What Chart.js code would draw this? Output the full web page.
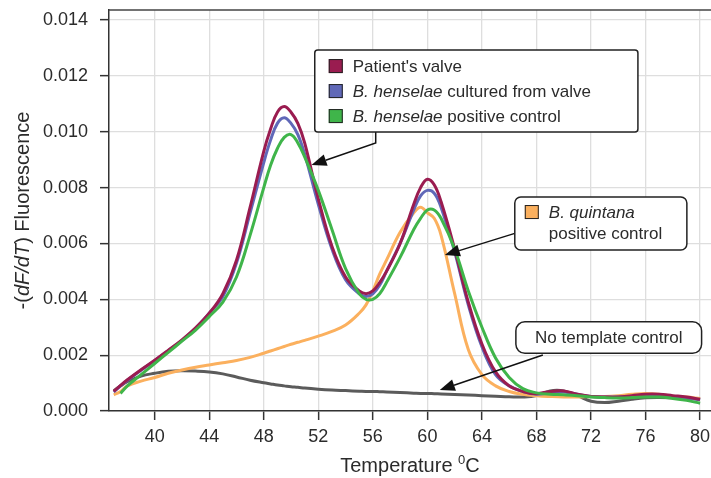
<!DOCTYPE html>
<html>
<head>
<meta charset="utf-8">
<script src="https://cdn.jsdelivr.net/npm/chart.js@4.4.1/dist/chart.umd.min.js"></script>
<style>
  html, body { margin: 0; padding: 0; background: #fff; }
  #wrap { width: 711px; height: 478px; }
</style>
</head>
<body>
<div id="wrap"><canvas id="meltChart" width="711" height="478"></canvas></div>
<script>
// Melt curve data (temperature in degrees C, -dF/dT)
const temps = [37, 37.5, 38, 39, 40, 41, 42, 43, 44, 45, 46, 47, 48, 48.5, 49, 49.5, 50, 50.5, 51,
  52, 53, 54, 55, 55.5, 56, 56.5, 57, 58, 59, 59.5, 60, 60.5, 61,
  62, 63, 64, 65, 66, 67, 68, 69, 70, 71, 72, 73, 74, 75, 76, 77, 78, 79, 80];

const patientValve = [0.00070, 0.00092, 0.00112, 0.00148, 0.00182, 0.00218, 0.00255, 0.00298, 0.0035, 0.0042, 0.0054, 0.0073, 0.0093, 0.0101, 0.0107, 0.0109, 0.0107, 0.0103, 0.0096,
  0.0076, 0.0059, 0.0048, 0.0043, 0.0042, 0.0043, 0.0046, 0.0050, 0.0060, 0.0074, 0.0080, 0.0083, 0.0081, 0.0075,
  0.0058, 0.0039, 0.0024, 0.0014, 0.0009, 0.0007, 0.00062, 0.0007, 0.00072, 0.0006, 0.00052, 0.0005, 0.0005, 0.00055, 0.0006, 0.0006, 0.00055, 0.0005, 0.00042];

const culturedValve = [0.00068, 0.0009, 0.0011, 0.00146, 0.0018, 0.00216, 0.00253, 0.00296, 0.0035, 0.0041, 0.0053, 0.0071, 0.0089, 0.0097, 0.0103, 0.0105, 0.0103, 0.0099, 0.0092,
  0.0074, 0.0058, 0.0047, 0.0042, 0.0041, 0.0042, 0.0045, 0.0050, 0.0060, 0.0072, 0.0077, 0.0079, 0.0078, 0.0073,
  0.0057, 0.0038, 0.0023, 0.0013, 0.0009, 0.0007, 0.0006, 0.00065, 0.00068, 0.0006, 0.00052, 0.0005, 0.0005, 0.00053, 0.00056, 0.00056, 0.00052, 0.00047, 0.0004];

const henselaeControl = [null, 0.00063, 0.0009, 0.0013, 0.0017, 0.0021, 0.0025, 0.0029, 0.00338, 0.0039, 0.0048, 0.0063, 0.0080, 0.0088, 0.0094, 0.0098, 0.0099, 0.0096, 0.0091,
  0.0079, 0.0065, 0.0051, 0.0042, 0.0040, 0.0040, 0.0042, 0.0046, 0.0055, 0.0065, 0.0069, 0.0072, 0.0072, 0.0069,
  0.0058, 0.0043, 0.0030, 0.0019, 0.0012, 0.0008, 0.00065, 0.0006, 0.00058, 0.00055, 0.0005, 0.00048, 0.00047, 0.00048, 0.0005, 0.0005, 0.00045, 0.00038, 0.00028];

const quintanaControl = [0.00058, 0.0007, 0.0009, 0.00107, 0.0012, 0.00135, 0.00147, 0.00157, 0.00165, 0.00173, 0.00181, 0.00192, 0.00207, 0.00215, 0.00223, 0.00231, 0.00239, 0.00246, 0.00253,
  0.00268, 0.00285, 0.00308, 0.0035, 0.0038, 0.0043, 0.0049, 0.0054, 0.0064, 0.0071, 0.0073, 0.0071, 0.0069, 0.0063,
  0.0042, 0.0022, 0.0013, 0.0009, 0.0007, 0.0006, 0.00055, 0.00052, 0.0005, 0.0005, 0.00052, 0.00052, 0.00055, 0.0006, 0.00063, 0.0006, 0.00053, 0.0005, 0.00045];

const noTemplate = [0.00072, 0.0009, 0.00105, 0.00125, 0.00135, 0.00142, 0.00144, 0.00143, 0.0014, 0.00133, 0.00122, 0.0011, 0.00101, 0.00097, 0.00093, 0.0009, 0.00087, 0.00085, 0.00082,
  0.00078, 0.00075, 0.00073, 0.00071, 0.0007, 0.0007, 0.00069, 0.00068, 0.00066, 0.00064, 0.00063, 0.00063, 0.00062, 0.00061,
  0.00059, 0.00057, 0.00055, 0.00053, 0.00051, 0.0005, 0.00055, 0.00072, 0.00072, 0.00055, 0.00035, 0.0003, 0.00035, 0.00042, 0.00047, 0.00048, 0.00047, 0.00045, 0.00043];

const xTicks = [40, 44, 48, 52, 56, 60, 64, 68, 72, 76, 80];
const yTicks = [0, 0.002, 0.004, 0.006, 0.008, 0.010, 0.012, 0.014];

const FONT = '"Liberation Sans", Arial, sans-serif';
const INK = '#2b2b2b';

const seriesColors = {
  patient: '#9a1c50',
  cultured: '#6068b8',
  henselae: '#3fb54a',
  quintana: '#fbb05e',
  ntc: '#5b5b5b'
};

function makeSeries(values, color, order) {
  return {
    data: temps.map((t, i) => ({ x: t, y: values[i] })),
    borderColor: color,
    borderWidth: 3,
    pointRadius: 0,
    fill: false,
    tension: 0.4,
    spanGaps: false,
    order: order
  };
}

// Rounded box helper
function roundBox(ctx, x, y, w, h, r) {
  ctx.beginPath();
  ctx.moveTo(x + r, y);
  ctx.lineTo(x + w - r, y);
  ctx.arcTo(x + w, y, x + w, y + r, r);
  ctx.lineTo(x + w, y + h - r);
  ctx.arcTo(x + w, y + h, x + w - r, y + h, r);
  ctx.lineTo(x + r, y + h);
  ctx.arcTo(x, y + h, x, y + h - r, r);
  ctx.lineTo(x, y + r);
  ctx.arcTo(x, y, x + r, y, r);
  ctx.closePath();
}

// Draw text made of normal / italic pieces
function drawRuns(ctx, runs, x, y, size) {
  let cx = x;
  runs.forEach(r => {
    ctx.font = (r.italic ? 'italic ' : '') + size + 'px ' + FONT;
    ctx.fillText(r.text, cx, y);
    cx += ctx.measureText(r.text).width;
  });
  return cx;
}

function runsWidth(ctx, runs, size) {
  let w = 0;
  runs.forEach(r => {
    ctx.font = (r.italic ? 'italic ' : '') + size + 'px ' + FONT;
    w += ctx.measureText(r.text).width;
  });
  return w;
}

function arrow(ctx, pts) {
  ctx.save();
  ctx.strokeStyle = '#111';
  ctx.fillStyle = '#111';
  ctx.lineWidth = 1.5;
  const tip = pts[pts.length - 1];
  const prev = pts[pts.length - 2];
  const ang = Math.atan2(tip[1] - prev[1], tip[0] - prev[0]);
  const len = 15, half = 6;
  const bx = tip[0] - len * Math.cos(ang), by = tip[1] - len * Math.sin(ang);
  ctx.beginPath();
  ctx.moveTo(pts[0][0], pts[0][1]);
  for (let i = 1; i < pts.length - 1; i++) ctx.lineTo(pts[i][0], pts[i][1]);
  ctx.lineTo(bx, by);
  ctx.stroke();
  ctx.beginPath();
  ctx.moveTo(tip[0], tip[1]);
  ctx.lineTo(bx + half * Math.sin(ang), by - half * Math.cos(ang));
  ctx.lineTo(bx - half * Math.sin(ang), by + half * Math.cos(ang));
  ctx.closePath();
  ctx.fill();
  ctx.restore();
}

// Callout boxes, placed in data units (temperature, fluorescence)
const henselaeCallout = {
  box: { x0: 51.74, x1: 75.44, y0: 0.012925, y1: 0.00999, r: 3 },
  arrow: [[56.21, 0.00999], [56.21, 0.009596], [51.5, 0.008808]],
  rows: [
    { color: seriesColors.patient, runs: [{ text: "Patient's valve" }] },
    { color: seriesColors.cultured, runs: [{ text: 'B. henselae', italic: true }, { text: ' cultured from valve' }] },
    { color: seriesColors.henselae, runs: [{ text: 'B. henselae', italic: true }, { text: ' positive control' }] }
  ]
};
const quintanaCallout = {
  box: { x0: 66.41, x1: 79.03, y0: 0.007662, y1: 0.005765, r: 6 },
  arrow: [[66.41, 0.006362], [61.28, 0.005585]]
};
const ntcCallout = {
  box: { x0: 66.49, x1: 80.11, y0: 0.003197, y1: 0.002066, r: 9 },
  arrow: [[68.47, 0.002005], [60.91, 0.000752]]
};

const calloutPlugin = {
  id: 'callouts',
  afterDraw(chart) {
    const { ctx, chartArea, scales: { x, y } } = chart;
    const px = v => x.getPixelForValue(v);
    const py = v => y.getPixelForValue(v);

    // top frame line
    ctx.save();
    ctx.strokeStyle = '#444';
    ctx.lineWidth = 1.5;
    ctx.beginPath();
    ctx.moveTo(chartArea.left, chartArea.top);
    ctx.lineTo(chartArea.right, chartArea.top);
    ctx.stroke();
    ctx.restore();

    const drawBox = b => {
      const bx = px(b.x0), by = py(b.y0);
      const bw = px(b.x1) - bx, bh = py(b.y1) - by;
      ctx.save();
      roundBox(ctx, bx, by, bw, bh, b.r);
      ctx.fillStyle = '#fff';
      ctx.fill();
      ctx.strokeStyle = '#222';
      ctx.lineWidth = 1.5;
      ctx.stroke();
      ctx.restore();
      return { bx, by, bw, bh };
    };
    const drawSwatch = (sx, cy, color) => {
      ctx.save();
      ctx.fillStyle = color;
      ctx.strokeStyle = '#222';
      ctx.lineWidth = 1;
      ctx.fillRect(sx, cy - 7, 14, 14);
      ctx.strokeRect(sx + 0.5, cy - 6.5, 13, 13);
      ctx.restore();
    };

    ctx.save();
    ctx.textBaseline = 'middle';
    ctx.textAlign = 'left';
    ctx.fillStyle = INK;

    // B. henselae legend
    arrow(ctx, henselaeCallout.arrow.map(p => [px(p[0]), py(p[1])]));
    const hb = drawBox(henselaeCallout.box);
    henselaeCallout.rows.forEach((row, i) => {
      const cy = hb.by + 16 + i * 25;
      drawSwatch(hb.bx + 14, cy, row.color);
      ctx.fillStyle = INK;
      drawRuns(ctx, row.runs, hb.bx + 38, cy + 1, 17);
    });

    // B. quintana callout
    arrow(ctx, quintanaCallout.arrow.map(p => [px(p[0]), py(p[1])]));
    const qb = drawBox(quintanaCallout.box);
    drawSwatch(qb.bx + 10, qb.by + 15, seriesColors.quintana);
    ctx.fillStyle = INK;
    drawRuns(ctx, [{ text: 'B. quintana', italic: true }], qb.bx + 34, qb.by + 16, 17);
    drawRuns(ctx, [{ text: 'positive control' }], qb.bx + 34, qb.by + 37, 17);

    // No template callout
    arrow(ctx, ntcCallout.arrow.map(p => [px(p[0]), py(p[1])]));
    const nb = drawBox(ntcCallout.box);
    ctx.fillStyle = INK;
    ctx.textAlign = 'center';
    ctx.font = '17px ' + FONT;
    ctx.fillText('No template control', nb.bx + nb.bw / 2, nb.by + nb.bh / 2 + 1);
    ctx.restore();

    // Axis titles (mixed italic / superscript)
    ctx.save();
    ctx.fillStyle = INK;
    ctx.textBaseline = 'middle';
    ctx.textAlign = 'left';
    const yRuns = [{ text: '-(' }, { text: 'dF/dT', italic: true }, { text: ') Fluorescence' }];
    const yw = runsWidth(ctx, yRuns, 20);
    ctx.translate(23, (chartArea.top + chartArea.bottom) / 2);
    ctx.rotate(-Math.PI / 2);
    drawRuns(ctx, yRuns, -yw / 2, 0, 20);
    ctx.restore();

    ctx.save();
    ctx.fillStyle = INK;
    ctx.textBaseline = 'alphabetic';
    ctx.textAlign = 'left';
    ctx.font = '20px ' + FONT;
    const w1 = ctx.measureText('Temperature ').width;
    ctx.font = '13px ' + FONT;
    const w2 = ctx.measureText('0').width;
    ctx.font = '20px ' + FONT;
    const w3 = ctx.measureText('C').width;
    const tx = (chartArea.left + chartArea.right) / 2 - (w1 + w2 + w3) / 2;
    const base = 472;
    ctx.fillText('Temperature ', tx, base);
    ctx.font = '13px ' + FONT;
    ctx.fillText('0', tx + w1, base - 8);
    ctx.font = '20px ' + FONT;
    ctx.fillText('C', tx + w1 + w2, base);
    ctx.restore();
  }
};

const ctx = document.getElementById('meltChart').getContext('2d');
new Chart(ctx, {
  type: 'line',
  data: {
    datasets: [
      makeSeries(noTemplate, seriesColors.ntc, 5),
      makeSeries(quintanaControl, seriesColors.quintana, 4),
      makeSeries(culturedValve, seriesColors.cultured, 3),
      makeSeries(patientValve, seriesColors.patient, 2),
      makeSeries(henselaeControl, seriesColors.henselae, 1)
    ]
  },
  options: {
    responsive: false,
    animation: false,
    devicePixelRatio: 1,
    layout: { padding: { top: 10, right: 0, left: 0, bottom: 0 } },
    plugins: {
      legend: { display: false },
      tooltip: { enabled: false }
    },
    scales: {
      x: {
        type: 'linear',
        min: 36.65,
        max: 80.8,
        afterBuildTicks: scale => { scale.ticks = xTicks.map(v => ({ value: v })); },
        afterFit: scale => { scale.height = 67; scale.paddingLeft = 0; scale.paddingRight = 0; },
        ticks: {
          font: { family: FONT, size: 18 },
          color: INK,
          padding: 6,
          maxRotation: 0,
          autoSkip: false
        },
        grid: { color: '#dedede', lineWidth: 1.3, tickLength: 9, tickColor: '#333', tickWidth: 1.5 },
        border: { color: '#333', width: 1.5 }
      },
      y: {
        min: 0,
        max: 0.01436,
        afterBuildTicks: scale => { scale.ticks = yTicks.map(v => ({ value: v })); },
        afterFit: scale => { scale.width = 109; scale.paddingTop = 0; scale.paddingBottom = 0; },
        ticks: {
          font: { family: FONT, size: 18 },
          color: INK,
          padding: 12,
          autoSkip: false,
          callback: v => v.toFixed(3)
        },
        grid: { color: '#dedede', lineWidth: 1.3, tickLength: 9, tickColor: '#333', tickWidth: 1.5 },
        border: { color: '#333', width: 1.5 }
      }
    }
  },
  plugins: [calloutPlugin]
});
</script>
</body>
</html>
